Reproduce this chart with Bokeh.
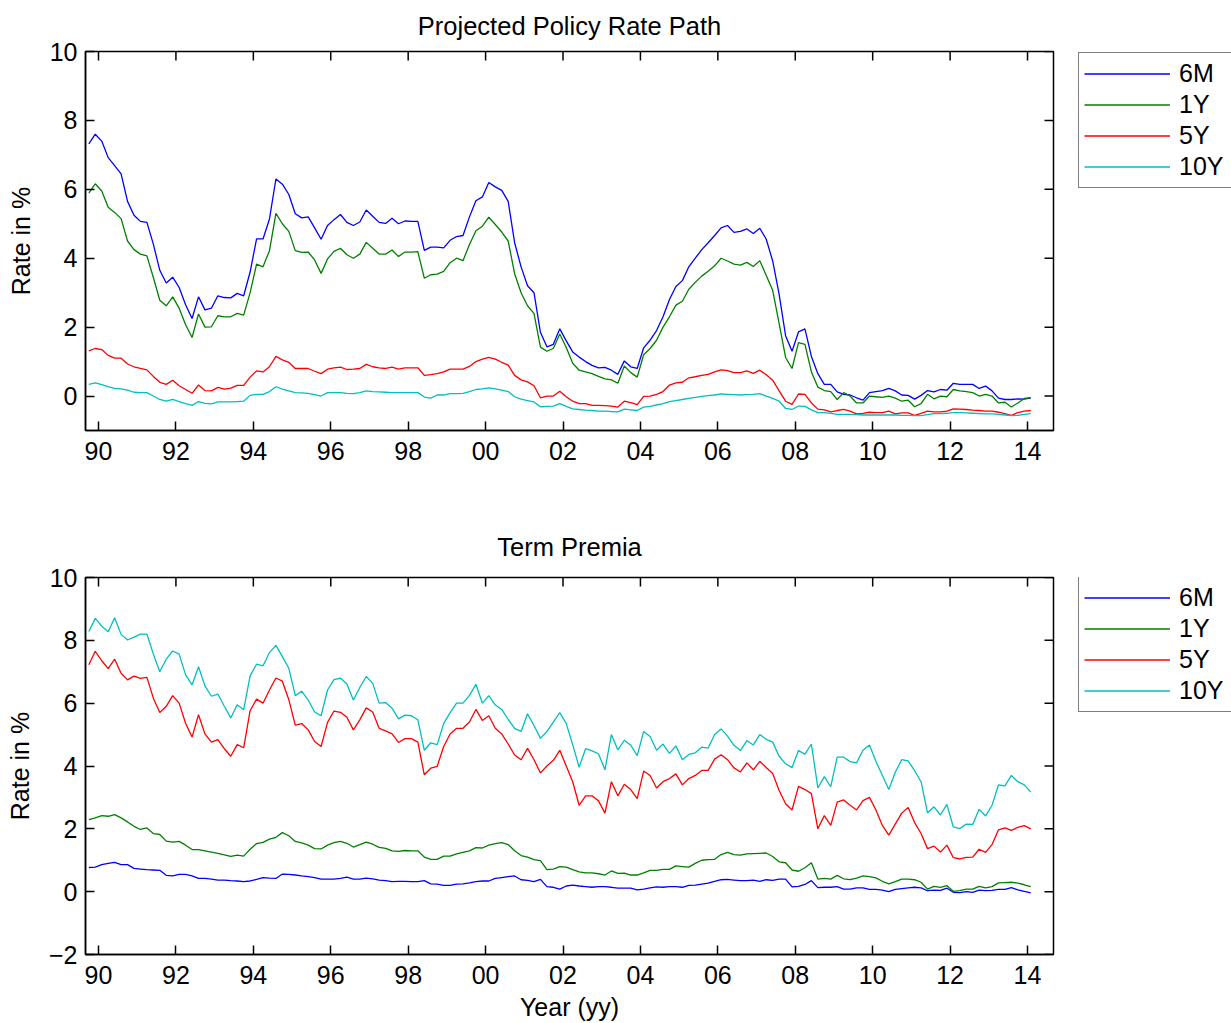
from bokeh.plotting import figure
from bokeh.models import Range1d, FixedTicker, Legend, LegendItem
from bokeh.layouts import column, row
from bokeh.embed import file_html
from bokeh.resources import INLINE

FONT = "Liberation Sans"
FS = "25px"

# bimonthly observations, Oct 1989 .. Feb 2014 (decimal years)
n_obs = 147
dates = [1989.75 + k / 6.0 for k in range(n_obs)]

# ---- Projected Policy Rate Path ----
pp_6m = [7.32, 7.6, 7.4, 6.92, 6.69, 6.45, 5.65, 5.25, 5.07, 5.04,
         4.41, 3.65, 3.28, 3.45, 3.15, 2.65, 2.25, 2.88, 2.5, 2.55,
         2.91, 2.86, 2.85, 2.98, 2.91, 3.6, 4.56, 4.56, 5.14, 6.3,
         6.15, 5.85, 5.29, 5.17, 5.2, 4.88, 4.55, 4.95, 5.12, 5.27,
         5.04, 4.95, 5.05, 5.4, 5.22, 5.04, 5.01, 5.16, 5.0, 5.08,
         5.07, 5.07, 4.23, 4.32, 4.32, 4.3, 4.52, 4.63, 4.66, 5.2,
         5.67, 5.78, 6.2, 6.07, 5.97, 5.65, 4.45, 3.75, 3.2, 3.0,
         1.85, 1.43, 1.5, 1.95, 1.6, 1.28, 1.13, 1.0, 0.89, 0.82,
         0.83, 0.75, 0.63, 1.02, 0.85, 0.8, 1.4, 1.62, 1.9, 2.3,
         2.8, 3.18, 3.35, 3.75, 4.0, 4.25, 4.45, 4.66, 4.88, 4.95,
         4.75, 4.78, 4.85, 4.72, 4.87, 4.55, 3.92, 2.95, 1.75, 1.3,
         1.86, 1.95, 1.15, 0.65, 0.34, 0.34, 0.12, 0.05, 0.03, -0.05,
         -0.12, 0.1, 0.13, 0.16, 0.22, 0.15, 0.03, 0.02, -0.09, 0.02,
         0.16, 0.12, 0.19, 0.17, 0.37, 0.34, 0.34, 0.34, 0.22, 0.29,
         0.15, -0.06, -0.1, -0.1, -0.08, -0.09, -0.05]
pp_1y = [5.89, 6.16, 5.95, 5.48, 5.33, 5.15, 4.5, 4.25, 4.12, 4.07,
         3.44, 2.78, 2.62, 2.88, 2.55, 2.07, 1.7, 2.38, 2.0, 2.01,
         2.33, 2.3, 2.3, 2.4, 2.35, 3.0, 3.83, 3.75, 4.22, 5.3,
         5.0, 4.78, 4.22, 4.17, 4.18, 3.95, 3.56, 3.98, 4.2, 4.29,
         4.1, 4.0, 4.12, 4.46, 4.29, 4.12, 4.12, 4.24, 4.05, 4.18,
         4.18, 4.19, 3.42, 3.52, 3.54, 3.62, 3.87, 4.0, 3.93, 4.4,
         4.8, 4.93, 5.19, 4.98, 4.76, 4.5, 3.55, 3.0, 2.62, 2.4,
         1.42, 1.3, 1.38, 1.8, 1.41, 0.95, 0.75, 0.7, 0.65, 0.57,
         0.5, 0.47, 0.37, 0.87, 0.68, 0.55, 1.2, 1.38, 1.62, 2.0,
         2.3, 2.64, 2.75, 3.1, 3.3, 3.48, 3.62, 3.78, 4.0, 3.92,
         3.83, 3.8, 3.88, 3.76, 3.93, 3.5, 3.07, 2.1, 1.12, 0.8,
         1.55, 1.5, 0.7, 0.26, 0.16, 0.13, -0.1, 0.1, 0.0, -0.2,
         -0.2, 0.0, -0.02, -0.04, 0.0, -0.06, -0.15, -0.12, -0.31, -0.22,
         0.05, -0.08, 0.0, -0.02, 0.19, 0.15, 0.13, 0.1, 0.0, 0.05,
         0.0, -0.2, -0.18, -0.32, -0.2, -0.07, -0.05]
pp_5y = [1.31, 1.38, 1.35, 1.18, 1.1, 1.1, 0.93, 0.85, 0.8, 0.76,
         0.57, 0.4, 0.34, 0.46, 0.3, 0.19, 0.08, 0.32, 0.16, 0.15,
         0.25, 0.2, 0.23, 0.31, 0.31, 0.55, 0.73, 0.7, 0.85, 1.15,
         1.05, 0.98, 0.8, 0.8, 0.8, 0.72, 0.65, 0.78, 0.82, 0.84,
         0.77, 0.78, 0.8, 0.92, 0.85, 0.82, 0.8, 0.84, 0.78, 0.82,
         0.82, 0.82, 0.6, 0.62, 0.65, 0.7, 0.78, 0.78, 0.78, 0.86,
         1.0, 1.07, 1.12, 1.07, 0.98, 0.9, 0.6, 0.47, 0.41, 0.3,
         -0.05, 0.0, 0.0, 0.14, -0.02, -0.15, -0.22, -0.22, -0.27, -0.27,
         -0.28, -0.29, -0.32, -0.15, -0.19, -0.25, -0.01, 0.0, 0.05, 0.13,
         0.32, 0.38, 0.4, 0.53, 0.56, 0.6, 0.63, 0.7, 0.76, 0.74,
         0.68, 0.68, 0.73, 0.66, 0.75, 0.62, 0.46, 0.15, -0.15, -0.24,
         0.06, 0.05, -0.2, -0.38, -0.4, -0.46, -0.42, -0.39, -0.44, -0.52,
         -0.5, -0.47, -0.48, -0.48, -0.44, -0.52, -0.49, -0.49, -0.56, -0.5,
         -0.44, -0.46, -0.46, -0.44, -0.37, -0.38, -0.39, -0.41, -0.42, -0.44,
         -0.44, -0.47, -0.51, -0.56, -0.48, -0.44, -0.42]
pp_10y = [0.34, 0.38, 0.33, 0.27, 0.22, 0.21, 0.17, 0.11, 0.1, 0.1,
          0.0, -0.1, -0.15, -0.1, -0.16, -0.22, -0.27, -0.16, -0.21, -0.23,
          -0.17, -0.17, -0.17, -0.16, -0.15, 0.02, 0.05, 0.05, 0.13, 0.27,
          0.2, 0.15, 0.1, 0.09, 0.08, 0.04, 0.0, 0.1, 0.1, 0.1,
          0.08, 0.07, 0.1, 0.15, 0.13, 0.12, 0.11, 0.1, 0.1, 0.1,
          0.1, 0.1, -0.03, -0.06, 0.03, 0.03, 0.07, 0.07, 0.08, 0.13,
          0.19, 0.21, 0.24, 0.21, 0.17, 0.13, -0.02, -0.09, -0.13, -0.17,
          -0.31, -0.3, -0.29, -0.22, -0.3, -0.37, -0.39, -0.41, -0.42, -0.44,
          -0.44, -0.45, -0.46, -0.38, -0.4, -0.42, -0.32, -0.3, -0.26, -0.22,
          -0.16, -0.13, -0.1, -0.07, -0.04, -0.01, 0.01, 0.03, 0.06, 0.05,
          0.04, 0.03, 0.04, 0.05, 0.07, 0.0, -0.07, -0.15, -0.36, -0.39,
          -0.29, -0.3, -0.4, -0.48, -0.48, -0.5, -0.53, -0.53, -0.53, -0.54,
          -0.55, -0.55, -0.55, -0.55, -0.55, -0.55, -0.56, -0.56, -0.57, -0.57,
          -0.54, -0.51, -0.51, -0.5, -0.48, -0.48, -0.49, -0.5, -0.51, -0.52,
          -0.52, -0.53, -0.55, -0.57, -0.56, -0.53, -0.51]

# ---- Term Premia ----
tp_6m = [0.77, 0.78, 0.86, 0.9, 0.93, 0.86, 0.86, 0.74, 0.72, 0.7,
         0.69, 0.68, 0.52, 0.5, 0.55, 0.55, 0.5, 0.42, 0.42, 0.4,
         0.37, 0.37, 0.35, 0.34, 0.32, 0.34, 0.39, 0.45, 0.43, 0.42,
         0.56, 0.55, 0.53, 0.5, 0.48, 0.45, 0.4, 0.4, 0.4, 0.42,
         0.46, 0.4, 0.4, 0.43, 0.41, 0.37, 0.35, 0.32, 0.33, 0.33,
         0.32, 0.32, 0.35, 0.25, 0.24, 0.2, 0.2, 0.24, 0.25, 0.28,
         0.32, 0.34, 0.34, 0.42, 0.45, 0.48, 0.5, 0.38, 0.36, 0.32,
         0.39, 0.16, 0.14, 0.08, 0.18, 0.21, 0.18, 0.16, 0.14, 0.16,
         0.16, 0.14, 0.11, 0.11, 0.11, 0.06, 0.08, 0.12, 0.15, 0.14,
         0.16, 0.16, 0.14, 0.2, 0.21, 0.24, 0.27, 0.33, 0.38, 0.39,
         0.37, 0.35, 0.35, 0.37, 0.33, 0.38, 0.36, 0.4, 0.4, 0.15,
         0.17, 0.23, 0.35, 0.13, 0.14, 0.14, 0.16, 0.08, 0.08, 0.12,
         0.12, 0.07, 0.07, 0.05, 0.0, 0.07, 0.1, 0.12, 0.14, 0.12,
         0.03, 0.05, 0.04, 0.11, -0.02, -0.03, 0.0, -0.02, 0.05, 0.03,
         0.04, 0.07, 0.07, 0.13, 0.06, 0.01, -0.04]
tp_1y = [2.29, 2.35, 2.42, 2.4, 2.45, 2.35, 2.22, 2.08, 1.98, 2.03,
         1.85, 1.82, 1.61, 1.58, 1.6, 1.48, 1.34, 1.34, 1.3, 1.26,
         1.22, 1.17, 1.12, 1.16, 1.13, 1.35, 1.53, 1.57, 1.67, 1.73,
         1.88, 1.78, 1.6, 1.55, 1.48, 1.37, 1.36, 1.48, 1.56, 1.6,
         1.54, 1.42, 1.5, 1.58, 1.51, 1.41, 1.38, 1.3, 1.28, 1.31,
         1.3, 1.3, 1.1, 1.03, 1.03, 1.13, 1.13, 1.2, 1.25, 1.3,
         1.4, 1.39, 1.48, 1.53, 1.56, 1.5, 1.3, 1.15, 1.1, 1.02,
         0.99, 0.7, 0.72, 0.8, 0.78, 0.7, 0.63, 0.6, 0.6, 0.57,
         0.53, 0.66, 0.58, 0.59, 0.53, 0.53, 0.6, 0.68, 0.68, 0.71,
         0.71, 0.82, 0.8, 0.78, 0.9, 1.0, 1.02, 1.03, 1.18, 1.25,
         1.18, 1.16, 1.2, 1.21, 1.22, 1.23, 1.12, 0.95, 0.92, 0.69,
         0.65, 0.76, 0.92, 0.4, 0.42, 0.4, 0.52, 0.41, 0.38, 0.43,
         0.5, 0.48, 0.44, 0.33, 0.25, 0.32, 0.4, 0.4, 0.38, 0.3,
         0.08, 0.17, 0.14, 0.19, 0.01, 0.03, 0.08, 0.08, 0.17, 0.12,
         0.16, 0.28, 0.29, 0.3, 0.27, 0.22, 0.16]
tp_5y = [7.22, 7.65, 7.35, 7.1, 7.4, 6.95, 6.74, 6.86, 6.79, 6.82,
         6.16, 5.7, 5.9, 6.24, 6.0, 5.36, 4.92, 5.63, 5.02, 4.76,
         4.84, 4.55, 4.31, 4.68, 4.58, 5.76, 6.13, 6.0, 6.42, 6.8,
         6.7, 6.11, 5.3, 5.35, 5.15, 4.78, 4.62, 5.39, 5.75, 5.71,
         5.55, 5.15, 5.47, 5.85, 5.72, 5.2, 5.12, 5.02, 4.75, 4.87,
         4.87, 4.76, 3.72, 3.93, 3.99, 4.62, 5.02, 5.2, 5.2, 5.4,
         5.8, 5.45, 5.6, 5.2, 5.02, 4.7, 4.35, 4.2, 4.56, 4.2,
         3.78, 4.0, 4.18, 4.5, 4.0, 3.5, 2.75, 3.05, 3.05, 2.89,
         2.5, 3.5, 3.05, 3.42, 3.25, 2.96, 3.84, 3.7, 3.3, 3.5,
         3.6, 3.75, 3.4, 3.6, 3.7, 3.86, 3.86, 4.22, 4.36, 4.2,
         3.94, 3.81, 4.1, 3.88, 4.15, 3.95, 3.76, 3.22, 2.8, 2.6,
         3.35, 3.25, 3.12, 2.0, 2.42, 2.11, 2.85, 2.92, 2.75, 2.6,
         2.9, 3.0, 2.6, 2.11, 1.8, 2.15, 2.5, 2.68, 2.2, 1.85,
         1.37, 1.45, 1.26, 1.48, 1.08, 1.04, 1.09, 1.1, 1.35, 1.25,
         1.5, 1.97, 2.03, 1.95, 2.05, 2.1, 2.0]
tp_10y = [8.28, 8.7, 8.45, 8.27, 8.72, 8.19, 8.01, 8.1, 8.2, 8.2,
          7.56, 7.0, 7.4, 7.66, 7.56, 6.9, 6.58, 7.16, 6.55, 6.22,
          6.29, 5.9, 5.53, 5.95, 5.79, 6.87, 7.24, 7.19, 7.61, 7.84,
          7.48, 7.11, 6.24, 6.38, 6.1, 5.72, 5.6, 6.42, 6.75, 6.8,
          6.61, 6.1, 6.5, 6.85, 6.63, 6.0, 6.02, 5.84, 5.5, 5.62,
          5.6, 5.47, 4.5, 4.74, 4.68, 5.35, 5.7, 6.0, 6.0, 6.25,
          6.6, 6.0, 6.24, 5.94, 5.8, 5.48, 5.2, 5.1, 5.66, 5.29,
          4.88, 5.1, 5.4, 5.7, 5.35, 4.68, 3.96, 4.55, 4.48, 4.39,
          3.88, 5.0, 4.51, 4.82, 4.66, 4.33, 5.1, 4.94, 4.5, 4.7,
          4.4, 4.64, 4.2, 4.37, 4.42, 4.6, 4.57, 5.0, 5.18, 4.95,
          4.66, 4.49, 4.81, 4.67, 5.0, 4.85, 4.76, 4.31, 4.07, 3.95,
          4.49, 4.38, 4.7, 3.3, 3.66, 3.34, 4.28, 4.28, 4.14, 4.1,
          4.5, 4.67, 4.15, 3.7, 3.25, 3.8, 4.2, 4.16, 3.85, 3.5,
          2.51, 2.7, 2.44, 2.78, 2.06, 2.01, 2.15, 2.14, 2.62, 2.41,
          2.75, 3.4, 3.37, 3.7, 3.5, 3.4, 3.17]

series_names = ["6M", "1Y", "5Y", "10Y"]
series_colors = ["#0000ff", "#008000", "#ff0000", "#00bfbf"]

x_ticks = list(range(1990, 2015, 2))
x_tick_labels = ["90", "92", "94", "96", "98", "00", "02", "04", "06", "08", "10", "12", "14"]
top_y_ticks = [0, 2, 4, 6, 8, 10]
bottom_y_ticks = [-2, 0, 2, 4, 6, 8, 10]

MAIN_W = 1075
LEG_W = 1231 - MAIN_W
LEFT = 85
FRAME_W = 968
FRAME_H = 379
X_LO, X_HI = 1989.664, 2014.671
TICK = 9


def make_panel(title, values, y_lo, y_hi, y_ticks, height, top_b, bottom_b, xlabel, title_standoff):
    p = figure(width=MAIN_W, height=height,
               x_range=Range1d(X_LO, X_HI), y_range=Range1d(y_lo, y_hi),
               output_backend="svg", toolbar_location=None,
               min_border_left=LEFT, min_border_right=MAIN_W - LEFT - FRAME_W,
               min_border_top=top_b, min_border_bottom=bottom_b)
    p.xgrid.visible = False
    p.ygrid.visible = False
    p.outline_line_color = "black"
    p.outline_line_width = 1.5
    p.background_fill_color = "white"
    p.border_fill_color = "white"

    p.title.text = title
    p.title.align = "center"
    p.title.vertical_align = "top"
    p.title.text_font = FONT
    p.title.text_font_size = "25.5px"
    p.title.text_font_style = "normal"
    p.title.text_color = "black"
    p.title.standoff = title_standoff

    for vals, col in zip(values, series_colors):
        p.line(dates, vals, line_color=col, line_width=1.3)

    # inward ticks on the top and right edges (box style)
    dy = TICK * (y_hi - y_lo) / FRAME_H
    dx = TICK * (X_HI - X_LO) / FRAME_W
    p.segment(x0=x_ticks, y0=[y_hi] * len(x_ticks), x1=x_ticks, y1=[y_hi - dy] * len(x_ticks),
              line_color="black", line_width=1.5)
    p.segment(x0=[X_HI] * len(y_ticks), y0=y_ticks, x1=[X_HI - dx] * len(y_ticks), y1=y_ticks,
              line_color="black", line_width=1.5)

    overrides_x = {t: lab for t, lab in zip(x_ticks, x_tick_labels)}
    overrides_y = {t: (("\u2212" + str(-t)) if t < 0 else str(t)) for t in y_ticks}

    def style(ax):
        ax.axis_line_color = "black"
        ax.axis_line_width = 1.5
        ax.major_tick_line_color = "black"
        ax.major_tick_line_width = 1.5
        ax.major_tick_in = TICK
        ax.major_tick_out = 0
        ax.minor_tick_line_color = None
        ax.major_label_text_font = FONT
        ax.major_label_text_font_size = FS
        ax.major_label_text_color = "black"
        ax.axis_label_text_font = FONT
        ax.axis_label_text_font_size = FS
        ax.axis_label_text_font_style = "normal"
        ax.axis_label_text_color = "black"

    xa = p.xaxis[0]
    style(xa)
    xa.ticker = FixedTicker(ticks=x_ticks)
    xa.major_label_overrides = overrides_x
    xa.major_label_standoff = 11
    if xlabel:
        xa.axis_label = xlabel
        xa.axis_label_standoff = 6

    ya = p.yaxis[0]
    style(ya)
    ya.ticker = FixedTicker(ticks=y_ticks)
    ya.major_label_overrides = overrides_y
    ya.major_label_standoff = 8
    ya.axis_label = "Rate in %"
    ya.axis_label_standoff = 12
    return p


def make_legend_fig(values, height, top_b, bottom_b):
    # a narrow companion figure that only carries the legend; its own lines lie
    # outside its (empty) view window, so only the legend is visible
    lf = figure(width=LEG_W, height=height, output_backend="svg", toolbar_location=None,
                x_range=Range1d(0, 1), y_range=Range1d(0, 1),
                x_axis_location=None, y_axis_location=None, title_location=None,
                min_border_left=0, min_border_right=0,
                min_border_top=top_b, min_border_bottom=bottom_b)
    lf.xgrid.visible = False
    lf.ygrid.visible = False
    lf.outline_line_color = None
    lf.background_fill_color = "white"
    lf.border_fill_color = "white"
    rends = [lf.line(dates, vals, line_color=col, line_width=1.3)
             for vals, col in zip(values, series_colors)]
    items = [LegendItem(label=nm, renderers=[r]) for nm, r in zip(series_names, rends)]
    legend_h = 2 * 5 + 4 * 31
    leg = Legend(items=items, location=(3, FRAME_H - legend_h - 3),
                 label_text_font=FONT, label_text_font_size=FS, label_text_color="black",
                 glyph_width=86, glyph_height=31, label_height=31, label_width=50,
                 label_standoff=9, spacing=0, padding=5, margin=0,
                 border_line_color="black", border_line_width=1.5,
                 background_fill_color="white", background_fill_alpha=1.0)
    lf.add_layout(leg, "center")
    return lf


H1, H2 = 500, 523
top_vals = [pp_6m, pp_1y, pp_5y, pp_10y]
bot_vals = [tp_6m, tp_1y, tp_5y, tp_10y]
p1 = make_panel("Projected Policy Rate Path", top_vals,
                -1, 10, top_y_ticks, H1, 51, H1 - 51 - FRAME_H, None, 20)
p2 = make_panel("Term Premia", bot_vals,
                -2, 10, bottom_y_ticks, H2, 77, H2 - 77 - FRAME_H, "Year (yy)", 30)
l1 = make_legend_fig(top_vals, H1, 51, H1 - 51 - FRAME_H)
l2 = make_legend_fig(bot_vals, H2, 77, H2 - 77 - FRAME_H)

layout = column(row(p1, l1, spacing=0), row(p2, l2, spacing=0), spacing=0)
open("out.html", "w").write(file_html(layout, INLINE))
